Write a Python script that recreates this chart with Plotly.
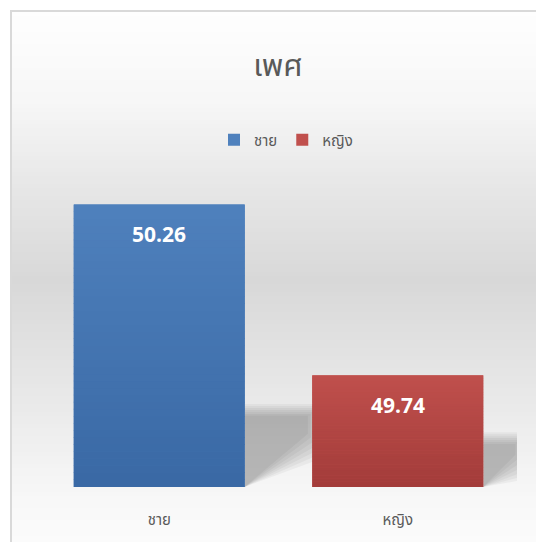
import plotly.graph_objects as go

categories = ["ชาย", "หญิง"]
values = [50.26, 49.74]
labels = ["50.26", "49.74"]
title_text = "เพศ"
y_range = [49.4, 50.4]

W, H = 536, 542
top_colors = [(79, 129, 189), (192, 80, 77)]
bot_colors = [(58, 105, 165), (163, 60, 58)]
BAR_W = 0.717
FONT = "Tahoma, Leelawadee UI, Noto Sans Thai, Noto Sans Thai UI, Loma, Garuda, Noto Sans, DejaVu Sans, sans-serif"

def px_x(p):
    return p / W

def px_y(p):
    return 1 - p / H

def lerp(a, b, t):
    return a + (b - a) * t

fig = go.Figure()
for i, (c, v) in enumerate(zip(categories, values)):
    r, g, b = top_colors[i]
    fig.add_trace(go.Bar(
        x=[c], y=[v], name=c, width=BAR_W,
        marker=dict(color=f"rgb({r},{g},{b})", line=dict(width=0)),
        hoverinfo="x+y",
    ))

shapes = []
# background gradient
stops = [(11, 254), (100, 247), (180, 232), (280, 216), (400, 233), (500, 248), (542, 251)]
def bg_at(py):
    for (y0, c0), (y1, c1) in zip(stops[:-1], stops[1:]):
        if y0 <= py <= y1:
            return lerp(c0, c1, (py - y0) / (y1 - y0))
    return stops[-1][1]

step = 4
py = 12
while py < H:
    c = int(round(bg_at(py + step / 2)))
    shapes.append(dict(type="rect", xref="paper", yref="paper",
                       x0=px_x(12), x1=1.01, y0=px_y(py + step + 0.5), y1=px_y(py),
                       fillcolor=f"rgb({c},{c},{c})", line=dict(width=0), layer="below"))
    py += step

# shadows (derived from data values)
ymin = y_range[0]
for i, v in enumerate(values):
    xr = i + BAR_W / 2
    h = 0.075 + 0.165 * (v - ymin)
    dx = 0.05 + 0.25 * (v - ymin)
    for k in range(7):
        e = k * 0.012
        path = (f"M {xr},{ymin} L {xr},{ymin + h + e * 0.5} "
                f"L {xr + dx + e},{ymin + h + e * 0.5} "
                f"L {xr + dx + e},{ymin + h * 0.75 - e} Z")
        shapes.append(dict(type="path", xref="x", yref="y", path=path,
                           fillcolor="rgba(0,0,0,0.04)", line=dict(width=0), layer="below"))

# bar vertical gradients
N = 40
for i, v in enumerate(values):
    x0, x1 = i - BAR_W / 2, i + BAR_W / 2
    for k in range(N):
        t = (k + 0.5) / N
        ya = ymin + (v - ymin) * k / N
        yb = ymin + (v - ymin) * (k + 1) / N
        r = int(lerp(bot_colors[i][0], top_colors[i][0], t))
        g = int(lerp(bot_colors[i][1], top_colors[i][1], t))
        b = int(lerp(bot_colors[i][2], top_colors[i][2], t))
        shapes.append(dict(type="rect", xref="x", yref="y", x0=x0, x1=x1, y0=ya, y1=yb + (v - ymin) * 0.002,
                           fillcolor=f"rgb({r},{g},{b})", line=dict(width=0), layer="above"))

# border
shapes.append(dict(type="rect", xref="paper", yref="paper",
                   x0=px_x(11), x1=1.02, y0=-0.02, y1=px_y(11),
                   line=dict(color="#d9d9d9", width=2), fillcolor="rgba(0,0,0,0)", layer="above"))

annotations = []
for c, v, t in zip(categories, values, labels):
    annotations.append(dict(x=c, y=v, xref="x", yref="y", text=f"<b>{t}</b>", showarrow=False,
                            yshift=-31, font=dict(size=21, color="white", family=FONT)))

fig.update_layout(
    width=W, height=H,
    margin=dict(l=0, r=0, t=0, b=0),
    paper_bgcolor="white", plot_bgcolor="rgba(0,0,0,0)",
    barmode="overlay",
    font=dict(family=FONT, color="#595959", size=14),
    title=dict(text=title_text, x=278 / W, xanchor="center", y=px_y(65), yanchor="middle",
               font=dict(size=31, color="#595959", family=FONT)),
    legend=dict(orientation="h", x=286 / W, xanchor="center", y=px_y(140), yanchor="middle",
                font=dict(size=15, color="#595959"), bgcolor="rgba(0,0,0,0)", itemwidth=30),
    xaxis=dict(domain=[px_x(40), px_x(517)], range=[-0.5, 1.5], showgrid=False, zeroline=False,
               showline=False, ticks="", ticklabelstandoff=22,
               tickfont=dict(size=15, color="#595959"), fixedrange=True),
    yaxis=dict(domain=[px_y(487), px_y(159)], range=y_range, visible=False, fixedrange=True),
    shapes=shapes,
    annotations=annotations,
    showlegend=True,
)

fig.write_html("out.html", config={"displayModeBar": False},
               post_script="document.body.style.margin='0';document.body.style.overflow='hidden';")
